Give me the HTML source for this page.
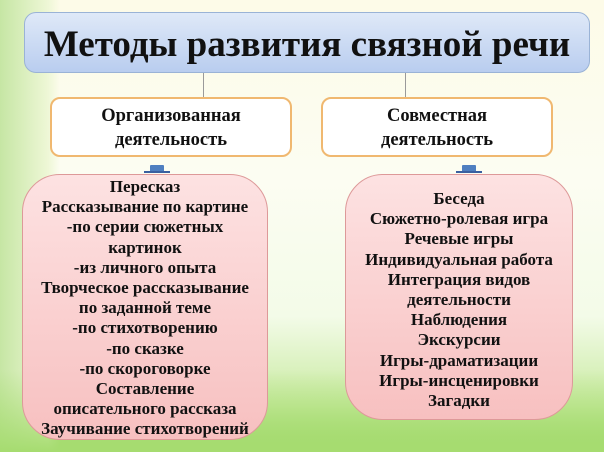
<!DOCTYPE html>
<html><head><meta charset="utf-8"><style>
body{margin:0;width:604px;height:452px;overflow:hidden;position:relative;font-family:"Liberation Serif","DejaVu Serif",serif;
background:linear-gradient(180deg,#fdfbe8 0%,#fcfdf2 40%,#f3fbe8 70%,#c8eaa0 90%,#9fd86a 100%);}
.lg{position:absolute;left:0;top:0;width:60px;height:452px;background:linear-gradient(90deg,#c6e6a4,#eef7d6 80%,rgba(255,255,255,0));}
.bt{position:absolute;left:0;top:370px;width:604px;height:82px;background:linear-gradient(180deg,rgba(190,230,140,0),#a6dc70);}
.box{position:absolute;box-sizing:border-box;text-align:center;font-weight:bold;color:#111;white-space:nowrap;}
.title{left:24px;top:12px;width:566px;height:61px;border-radius:12px;border:1px solid #9ab3d6;
background:linear-gradient(180deg,#dfe9f8,#b9cdef);font-size:37px;line-height:64px;}
.mid{top:97px;height:60px;border-radius:10px;border:2px solid #f0b870;background:#fff;font-size:18.5px;line-height:24px;padding-top:5px;}
.pink{border-radius:38px;border:1px solid #d99;background:linear-gradient(180deg,#fde2e2,#f7c0c0);font-size:17px;line-height:20.2px;}
.ln{position:absolute;background:#9a9a9a;width:1px;}
.cap{position:absolute;width:14px;height:7px;background:#4f7fc0;border-radius:1px;}
.capb{position:absolute;width:26px;height:2px;background:#3a60a0;}
</style></head><body>
<div class="lg"></div><div class="bt"></div>
<div class="ln" style="left:203px;top:73px;height:24px"></div>
<div class="ln" style="left:405px;top:73px;height:24px"></div>
<div class="box title">Методы развития связной речи</div>
<div class="box mid" style="left:50px;width:242px">Организованная<br>деятельность</div>
<div class="box mid" style="left:321px;width:232px">Совместная<br>деятельность</div>
<div class="cap" style="left:150px;top:165px"></div><div class="capb" style="left:144px;top:171px"></div>
<div class="cap" style="left:462px;top:165px"></div><div class="capb" style="left:456px;top:171px"></div>
<div class="box pink" style="left:22px;top:174px;width:246px;height:266px;padding-top:2px">Пересказ<br>Рассказывание по картине<br>-по серии сюжетных<br>картинок<br>-из личного опыта<br>Творческое рассказывание<br>по заданной теме<br>-по стихотворению<br>-по сказке<br>-по скороговорке<br>Составление<br>описательного рассказа<br>Заучивание стихотворений</div>
<div class="box pink" style="left:345px;top:174px;width:228px;height:246px;padding-top:14px">Беседа<br>Сюжетно-ролевая игра<br>Речевые игры<br>Индивидуальная работа<br>Интеграция видов<br>деятельности<br>Наблюдения<br>Экскурсии<br>Игры-драматизации<br>Игры-инсценировки<br>Загадки</div>
</body></html>
